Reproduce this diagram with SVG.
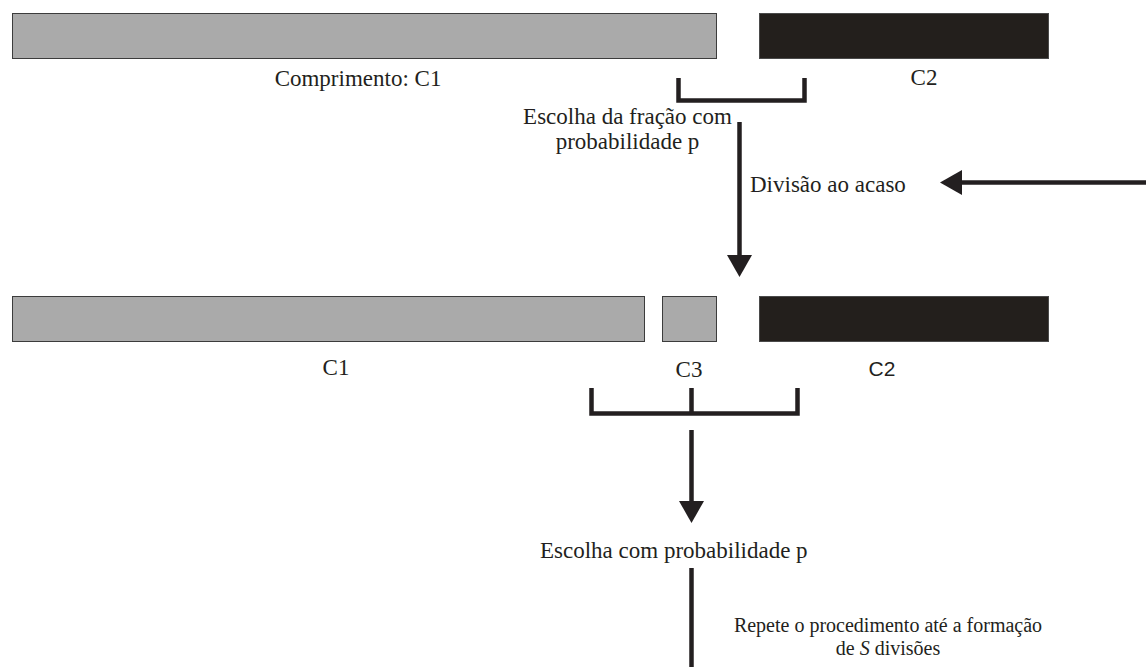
<svg xmlns="http://www.w3.org/2000/svg" width="1146" height="667" viewBox="0 0 1146 667">
  <defs>
    <style>
      .gray { fill: #aaaaaa; stroke: #3c3c3c; stroke-width: 1; }
      .dark { fill: #231f1c; stroke: #4a4a4a; stroke-width: 1; }
      .t { font-family: "Liberation Serif", "Times New Roman", serif; font-size: 23px; fill: #231f20; }
      .ts { font-family: "Liberation Sans", Arial, sans-serif; font-size: 21px; fill: #231f20; }
      .ln { fill: none; stroke: #231f20; stroke-width: 4.5; stroke-linecap: butt; stroke-linejoin: miter; }
    </style>
    <marker id="ah" markerUnits="userSpaceOnUse" markerWidth="23" markerHeight="26" refX="10" refY="12.5" orient="auto">
      <path d="M0,0 L22,12.5 L0,25 Z" fill="#231f20"/>
    </marker>
  </defs>

  <rect width="1146" height="667" fill="#ffffff"/>

  <g id="row1">
    <g id="c1-top">
      <rect class="gray" x="12.5" y="13.5" width="704" height="45"/>
      <text class="t" x="358" y="86" text-anchor="middle">Comprimento: C1</text>
    </g>
    <g id="c2-top">
      <rect class="dark" x="759.5" y="13.5" width="289" height="45"/>
      <text class="t" x="924" y="85" text-anchor="middle">C2</text>
    </g>
  </g>

  <g id="row2">
    <g id="c1-bottom">
      <rect class="gray" x="12.5" y="296.5" width="632" height="45"/>
      <text class="t" x="336" y="375" text-anchor="middle">C1</text>
    </g>
    <g id="c3-bottom">
      <rect class="gray" x="662.5" y="296.5" width="54" height="45"/>
      <text class="t" x="689" y="377" text-anchor="middle">C3</text>
    </g>
    <g id="c2-bottom">
      <rect class="dark" x="759.5" y="296.5" width="289" height="45"/>
      <text class="ts" x="882" y="376" text-anchor="middle">C2</text>
    </g>
  </g>

  <g id="labels">
    <g id="escolha-fracao">
      <text class="t" x="627.5" y="124" text-anchor="middle">Escolha da fração com</text>
      <text class="t" x="627.5" y="149" text-anchor="middle">probabilidade p</text>
    </g>
    <g id="divisao">
      <text class="t" x="750" y="192">Divisão ao acaso</text>
    </g>
    <g id="escolha-prob">
      <text class="t" x="540" y="558">Escolha com probabilidade p</text>
    </g>
    <g id="repete">
      <text class="t" x="888" y="632" text-anchor="middle" style="font-size:20px">Repete o procedimento até a formação</text>
      <text class="t" x="888" y="655" text-anchor="middle" style="font-size:20px">de <tspan font-style="italic">S</tspan> divisões</text>
    </g>
  </g>

  <g id="connectors">
    <path id="bracket1" class="ln" d="M678.5,78 V100.5 H804.5 V78"/>
    <path id="bracket2" class="ln" d="M591.5,388 V413.5 H797.5 V388 M691.5,388 V413.5"/>
    <line id="arrow-down1" class="ln" x1="739.5" y1="122" x2="739.5" y2="265" marker-end="url(#ah)"/>
    <line id="arrow-left" class="ln" x1="1146" y1="182.5" x2="952" y2="182.5" marker-end="url(#ah)"/>
    <line id="arrow-down2" class="ln" x1="691.5" y1="430" x2="691.5" y2="511" marker-end="url(#ah)"/>
    <line id="line-repeat" class="ln" x1="691.5" y1="568" x2="691.5" y2="667"/>
  </g>
</svg>
